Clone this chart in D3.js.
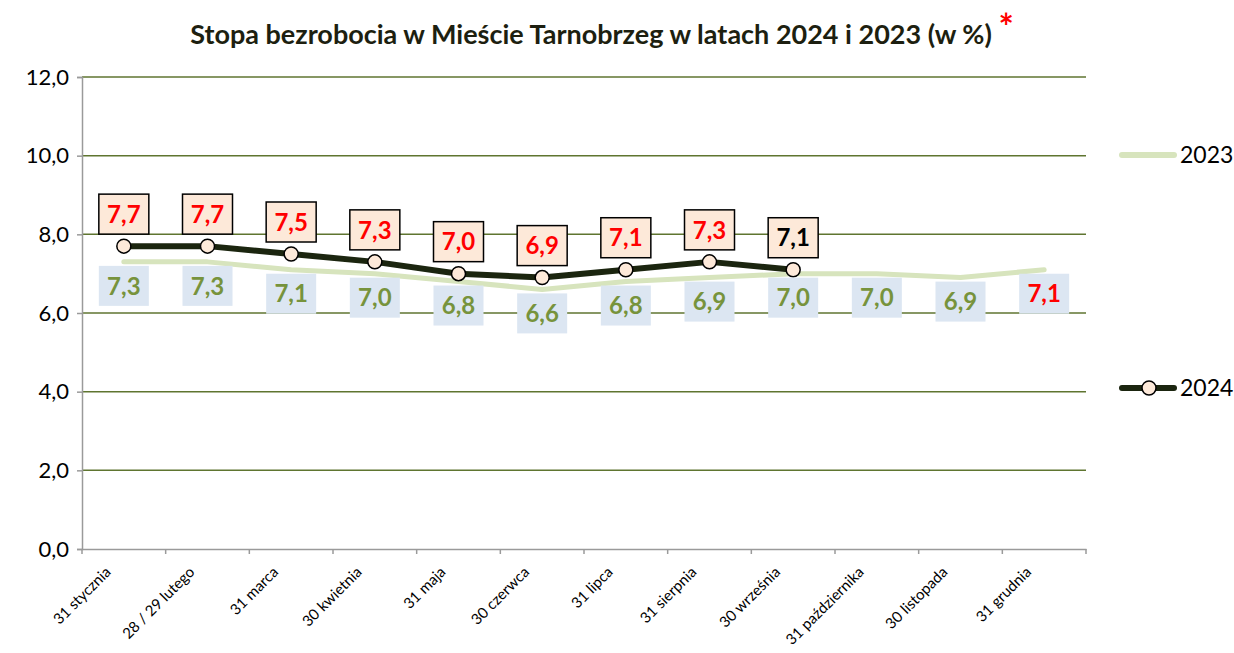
<!DOCTYPE html>
<html>
<head>
<meta charset="utf-8">
<script src="https://cdn.jsdelivr.net/npm/d3@7"></script>
<style>
  body { margin: 0; background: #fff; }
  svg { font-family: Lato, "Open Sans", sans-serif; }
</style>
</head>
<body>
<svg id="chart" width="1234" height="653"></svg>
<script>
var months = ["31 stycznia", "28 / 29 lutego", "31 marca", "30 kwietnia", "31 maja", "30 czerwca",
              "31 lipca", "31 sierpnia", "30 września", "31 października", "30 listopada", "31 grudnia"];
var values2023 = [7.3, 7.3, 7.1, 7.0, 6.8, 6.6, 6.8, 6.9, 7.0, 7.0, 6.9, 7.1];
var values2024 = [7.7, 7.7, 7.5, 7.3, 7.0, 6.9, 7.1, 7.3, 7.1];
var yTicks = [0, 2, 4, 6, 8, 10, 12];

var svg = d3.select("#chart");
var plotLeft = 82, plotRight = 1086, plotTop = 77, plotBottom = 549;

var fmt = function (v) { return d3.format(".1f")(v).replace(".", ","); };

var x = d3.scaleBand()
    .domain(months)
    .range([plotLeft, plotRight]);

var y = d3.scaleLinear()
    .domain([0, 12])
    .range([plotBottom, plotTop]);

var cx = function (d, i) { return x(months[i]) + x.bandwidth() / 2; };

// gridlines
svg.append("g")
    .selectAll("line")
    .data(yTicks.filter(function (t) { return t > 0; }))
    .enter().append("line")
    .attr("x1", plotLeft)
    .attr("x2", plotRight)
    .attr("y1", function (d) { return y(d); })
    .attr("y2", function (d) { return y(d); })
    .style("stroke", "#5f7530")
    .style("stroke-width", 1.5);

// y axis
var yAxis = svg.append("g")
    .attr("transform", "translate(" + plotLeft + ",0)")
    .call(d3.axisLeft(y).tickValues(yTicks).tickFormat(fmt).tickSize(5).tickPadding(8));
yAxis.select(".domain").style("stroke", "#9a9a9a").style("stroke-width", 1.5);
yAxis.selectAll(".tick line").style("stroke", "#9a9a9a").style("stroke-width", 1.5);
yAxis.selectAll("text").style("font-size", "22px").style("fill", "#000")
    .style("font-family", "Lato, sans-serif");

// x axis
var xAxis = svg.append("g")
    .attr("transform", "translate(0," + plotBottom + ")")
    .call(d3.axisBottom(x).tickSize(0).tickFormat(""));
xAxis.select(".domain").style("stroke", "#9a9a9a").style("stroke-width", 1.5);

svg.append("g")
    .selectAll("line")
    .data(months.concat(["end"]))
    .enter().append("line")
    .attr("x1", function (d, i) { return plotLeft + i * x.bandwidth(); })
    .attr("x2", function (d, i) { return plotLeft + i * x.bandwidth(); })
    .attr("y1", plotBottom)
    .attr("y2", plotBottom + 5)
    .style("stroke", "#9a9a9a")
    .style("stroke-width", 1.5);

svg.append("g")
    .selectAll("text")
    .data(months)
    .enter().append("text")
    .attr("transform", function (d, i) {
        return "translate(" + (cx(d, i) - 12) + "," + (plotBottom + 24) + ") rotate(-45)";
    })
    .attr("text-anchor", "end")
    .style("font-size", "15px")
    .style("fill", "#000")
    .text(function (d) { return d; });

// 2023 line
var line = d3.line()
    .x(cx)
    .y(function (d) { return y(d); });

svg.append("path")
    .datum(values2023)
    .attr("d", line)
    .style("fill", "none")
    .style("stroke", "#d7e4bd")
    .style("stroke-width", 5)
    .style("stroke-linejoin", "round")
    .style("stroke-linecap", "round");

// 2024 line
svg.append("path")
    .datum(values2024)
    .attr("d", line)
    .style("fill", "none")
    .style("stroke", "#1b250f")
    .style("stroke-width", 6)
    .style("stroke-linejoin", "round");

svg.append("g")
    .selectAll("circle")
    .data(values2024)
    .enter().append("circle")
    .attr("cx", cx)
    .attr("cy", function (d) { return y(d); })
    .attr("r", 7)
    .style("fill", "#fde9d9")
    .style("stroke", "#000")
    .style("stroke-width", 1.5);

// 2023 labels
var lab23 = svg.append("g")
    .selectAll("g")
    .data(values2023)
    .enter().append("g")
    .attr("transform", function (d, i) {
        return "translate(" + cx(d, i) + "," + (y(d) + 24) + ")";
    });
lab23.append("rect")
    .attr("x", -25).attr("y", -20).attr("width", 50).attr("height", 40)
    .style("fill", "#dce6f2");
lab23.append("text")
    .attr("text-anchor", "middle")
    .attr("dy", "0.36em")
    .style("font-size", "24px")
    .style("font-weight", "bold")
    .style("fill", function (d, i) { return i === values2023.length - 1 ? "#ff0000" : "#77933c"; })
    .text(fmt);

// 2024 labels
var lab24 = svg.append("g")
    .selectAll("g")
    .data(values2024)
    .enter().append("g")
    .attr("transform", function (d, i) {
        return "translate(" + cx(d, i) + "," + (y(d) - 32) + ")";
    });
lab24.append("rect")
    .attr("x", -25).attr("y", -20).attr("width", 50).attr("height", 40)
    .style("fill", "#fde9d9")
    .style("stroke", "#000")
    .style("stroke-width", 1.5);
lab24.append("text")
    .attr("text-anchor", "middle")
    .attr("dy", "0.36em")
    .style("font-size", "24px")
    .style("font-weight", "bold")
    .style("fill", function (d, i) { return i === values2024.length - 1 ? "#000" : "#ff0000"; })
    .text(fmt);

// title
var title = svg.append("text")
    .attr("x", 602)
    .attr("y", 44)
    .attr("text-anchor", "middle")
    .style("font-size", "27px")
    .style("font-weight", "bold")
    .style("fill", "#1d1f10");
title.append("tspan").text("Stopa bezrobocia w Mieście Tarnobrzeg w latach 2024 i 2023 (w %) ");
title.append("tspan")
    .attr("dy", -4)
    .style("fill", "#ff0000")
    .style("font-size", "36px")
    .text("*");

// legend
var legend = svg.append("g");
legend.append("line")
    .attr("x1", 1122).attr("x2", 1174).attr("y1", 155).attr("y2", 155)
    .style("stroke", "#d7e4bd").style("stroke-width", 6).style("stroke-linecap", "round");
legend.append("text")
    .attr("x", 1180).attr("y", 155).attr("dy", "0.36em")
    .style("font-size", "23px").style("fill", "#000")
    .text("2023");
legend.append("line")
    .attr("x1", 1122).attr("x2", 1174).attr("y1", 388).attr("y2", 388)
    .style("stroke", "#1b250f").style("stroke-width", 6).style("stroke-linecap", "round");
legend.append("circle")
    .attr("cx", 1149).attr("cy", 388).attr("r", 7)
    .style("fill", "#fde9d9").style("stroke", "#000").style("stroke-width", 1.5);
legend.append("text")
    .attr("x", 1180).attr("y", 388).attr("dy", "0.36em")
    .style("font-size", "23px").style("fill", "#000")
    .text("2024");
</script>
</body>
</html>
